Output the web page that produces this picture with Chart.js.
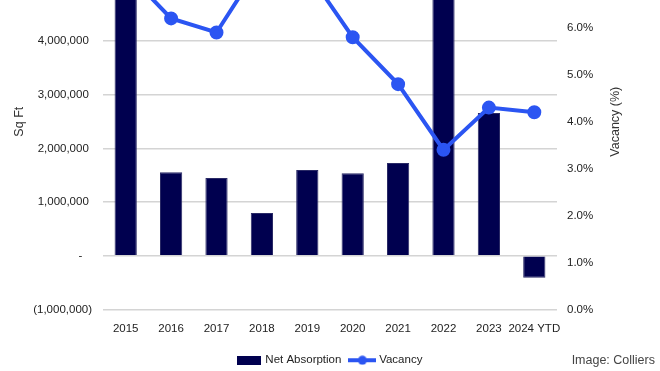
<!DOCTYPE html>
<html>
<head>
<meta charset="utf-8">
<script src="https://cdn.jsdelivr.net/npm/chart.js@4/dist/chart.umd.min.js"></script>
<style>
  html, body { margin: 0; padding: 0; background: #fff; }
  #wrap { position: relative; width: 660px; height: 371px; overflow: hidden; }
  #c { position: absolute; left: 0; top: -84px; }
  #credit { position: absolute; right: 5px; top: 353px; font: 12.5px "Liberation Sans", Arial, sans-serif; color: #444; }
</style>
</head>
<body>
<div id="wrap">
  <canvas id="c" width="660" height="460"></canvas>
  <div id="credit">Image: Colliers</div>
</div>
<script>
// dados
var years = ['2015', '2016', '2017', '2018', '2019', '2020', '2021', '2022', '2023', '2024 YTD'];
var netAbsorption = [5300000, 1560000, 1450000, 800000, 1600000, 1540000, 1730000, 5600000, 2660000, -410000];
var vacancy = [7.2, 6.2, 5.9, 7.4, 7.2, 5.8, 4.8, 3.4, 4.3, 4.2];

var NAVY = '#00004f';
var BLUE = '#2b55f2';
var FONT = '"Liberation Sans", Arial, sans-serif';
var FS = 11.5;

function fmt(n) {
    return n.toLocaleString('en-US');
}

// ícones da legenda
function barIcon() {
    var c = document.createElement('canvas');
    c.width = 24; c.height = 9;
    var g = c.getContext('2d');
    g.fillStyle = NAVY;
    g.fillRect(0, 0, 24, 9);
    return c;
}
function lineIcon() {
    var c = document.createElement('canvas');
    c.width = 28; c.height = 10;
    var g = c.getContext('2d');
    g.strokeStyle = BLUE;
    g.lineWidth = 4;
    g.beginPath(); g.moveTo(0, 5); g.lineTo(28, 5); g.stroke();
    g.fillStyle = BLUE;
    g.beginPath(); g.arc(14, 5, 4.5, 0, Math.PI * 2); g.fill();
    return c;
}

// título do eixo da direita (lido de baixo para cima)
var rightTitle = {
    id: 'rightTitle',
    afterDraw: function (chart) {
        var ctx = chart.ctx;
        var a = chart.chartArea;
        ctx.save();
        ctx.translate(616, (a.top + a.bottom) / 2);
        ctx.rotate(-Math.PI / 2);
        ctx.font = '12.5px ' + FONT;
        ctx.fillStyle = '#333';
        ctx.textAlign = 'center';
        ctx.textBaseline = 'middle';
        ctx.fillText('Vacancy (%)', 0, 0);
        ctx.restore();
    }
};

var ctx = document.getElementById('c').getContext('2d');
var chart = new Chart(ctx, {
    type: 'bar',
    data: {
        labels: years,
        datasets: [{
            type: 'bar',
            label: 'Net Absorption',
            data: netAbsorption,
            backgroundColor: NAVY,
            borderColor: '#2a2a66',
            borderWidth: 1,
            barPercentage: 0.49,
            categoryPercentage: 1,
            yAxisID: 'y',
            order: 2
        }, {
            type: 'line',
            label: 'Vacancy',
            data: vacancy,
            borderColor: BLUE,
            backgroundColor: BLUE,
            borderWidth: 4,
            pointRadius: 5,
            pointHoverRadius: 5,
            tension: 0,
            yAxisID: 'y1',
            order: 1
        }]
    },
    options: {
        responsive: false,
        animation: false,
        plugins: {
            tooltip: { enabled: false },
            legend: {
                position: 'bottom',
                labels: {
                    usePointStyle: true,
                    pointStyleWidth: 22,
                    padding: 10,
                    color: '#222',
                    font: { family: FONT, size: FS },
                    generateLabels: function () {
                        return [
                            { text: 'Net Absorption', pointStyle: barIcon(), datasetIndex: 0, fontColor: '#222', lineWidth: 0, strokeStyle: 'transparent', fillStyle: NAVY },
                            { text: 'Vacancy', pointStyle: lineIcon(), datasetIndex: 1, fontColor: '#222', lineWidth: 0, strokeStyle: 'transparent', fillStyle: BLUE }
                        ];
                    }
                }
            }
        },
        scales: {
            x: {
                grid: { display: false },
                border: { display: false },
                ticks: { color: '#222', padding: 4, font: { family: FONT, size: FS }, maxRotation: 0, autoSkip: false },
                afterFit: function (s) { s.height = 35; }
            },
            y: {
                position: 'left',
                min: -1000000,
                max: 6000000,
                ticks: {
                    stepSize: 1000000,
                    padding: 11,
                    color: '#222',
                    font: { family: FONT, size: FS },
                    callback: function (v) {
                        if (v === 0) return '-   ';
                        if (v < 0) return '(' + fmt(-v) + ')';
                        return fmt(v) + ' ';
                    }
                },
                grid: { color: '#d4d4d4', lineWidth: 1.5, drawTicks: false },
                border: { display: false },
                title: { display: true, text: 'Sq Ft', color: '#333', font: { family: FONT, size: 12.5 }, padding: { top: 12 } },
                afterFit: function (s) { s.width = 103; }
            },
            y1: {
                position: 'right',
                min: 0,
                max: 8,
                ticks: {
                    stepSize: 1,
                    padding: 10,
                    color: '#222',
                    font: { family: FONT, size: FS },
                    callback: function (v) { return v.toFixed(1) + '%'; }
                },
                grid: { display: false, drawTicks: false },
                border: { display: false },
                afterFit: function (s) { s.width = 103; }
            }
        }
    },
    plugins: [rightTitle]
});
</script>
</body>
</html>
